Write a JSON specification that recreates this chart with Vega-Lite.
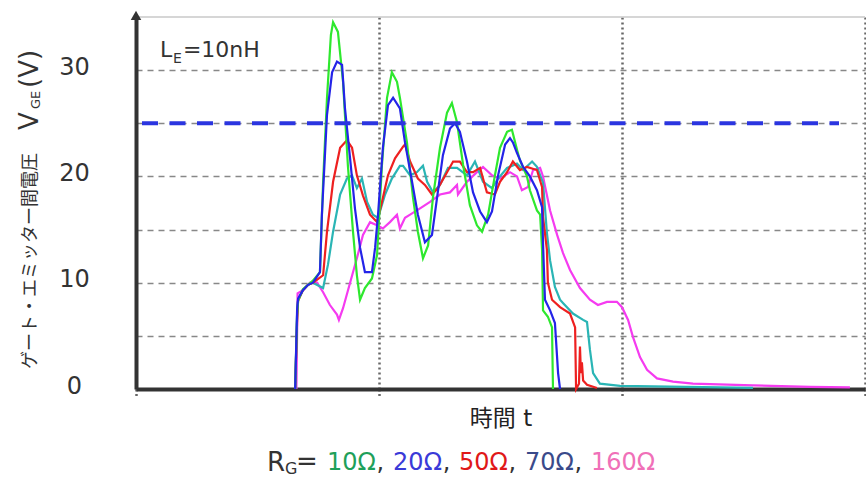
{
  "$schema": "https://vega.github.io/schema/vega-lite/v6.json",
  "width": 729,
  "height": 372,
  "autosize": {"type": "none"},
  "padding": {"left": 136, "top": 17, "right": 1, "bottom": 90},
  "background": "white",
  "config": {"view": {"stroke": null}, "font": "DejaVu Sans, Noto Sans CJK JP"},
  "datasets": {
    "curves": [
      {"rg":"160Ω","t":0.660,"v":0},{"rg":"160Ω","t":0.665,"v":9},{"rg":"160Ω","t":0.687,"v":9.3},{"rg":"160Ω","t":0.716,"v":10},{"rg":"160Ω","t":0.745,"v":10},{"rg":"160Ω","t":0.770,"v":9.1},{"rg":"160Ω","t":0.798,"v":7.9},{"rg":"160Ω","t":0.827,"v":7},{"rg":"160Ω","t":0.835,"v":6.5},{"rg":"160Ω","t":0.852,"v":7.6},{"rg":"160Ω","t":0.881,"v":10},{"rg":"160Ω","t":0.909,"v":12.3},{"rg":"160Ω","t":0.934,"v":14.5},{"rg":"160Ω","t":0.963,"v":15.7},{"rg":"160Ω","t":0.992,"v":15.4},{"rg":"160Ω","t":1.016,"v":15.1},{"rg":"160Ω","t":1.045,"v":15.7},{"rg":"160Ω","t":1.074,"v":16.4},{"rg":"160Ω","t":1.086,"v":15.1},{"rg":"160Ω","t":1.107,"v":16.1},{"rg":"160Ω","t":1.128,"v":16.4},{"rg":"160Ω","t":1.169,"v":17},{"rg":"160Ω","t":1.210,"v":17.6},{"rg":"160Ω","t":1.251,"v":18.3},{"rg":"160Ω","t":1.292,"v":18.5},{"rg":"160Ω","t":1.321,"v":19.2},{"rg":"160Ω","t":1.325,"v":18.3},{"rg":"160Ω","t":1.362,"v":19.5},{"rg":"160Ω","t":1.403,"v":20.4},{"rg":"160Ω","t":1.428,"v":20.9},{"rg":"160Ω","t":1.465,"v":20.1},{"rg":"160Ω","t":1.498,"v":19.8},{"rg":"160Ω","t":1.539,"v":20.4},{"rg":"160Ω","t":1.568,"v":20},{"rg":"160Ω","t":1.588,"v":18.7},{"rg":"160Ω","t":1.613,"v":19},{"rg":"160Ω","t":1.634,"v":20.6},{"rg":"160Ω","t":1.663,"v":20.8},{"rg":"160Ω","t":1.675,"v":20},{"rg":"160Ω","t":1.704,"v":16.8},{"rg":"160Ω","t":1.733,"v":14.5},{"rg":"160Ω","t":1.757,"v":12.8},{"rg":"160Ω","t":1.786,"v":11.2},{"rg":"160Ω","t":1.827,"v":9.5},{"rg":"160Ω","t":1.868,"v":8.4},{"rg":"160Ω","t":1.901,"v":7.9},{"rg":"160Ω","t":1.938,"v":8.2},{"rg":"160Ω","t":1.979,"v":8.2},{"rg":"160Ω","t":2.000,"v":7.7},{"rg":"160Ω","t":2.025,"v":6.5},{"rg":"160Ω","t":2.045,"v":4.9},{"rg":"160Ω","t":2.074,"v":3},{"rg":"160Ω","t":2.103,"v":1.8},{"rg":"160Ω","t":2.144,"v":1},{"rg":"160Ω","t":2.210,"v":0.7},{"rg":"160Ω","t":2.292,"v":0.5},{"rg":"160Ω","t":2.539,"v":0.35},{"rg":"160Ω","t":2.774,"v":0.2},{"rg":"160Ω","t":2.938,"v":0.15},
      {"rg":"70Ω","t":0.655,"v":0},{"rg":"70Ω","t":0.663,"v":7},{"rg":"70Ω","t":0.667,"v":8.4},{"rg":"70Ω","t":0.687,"v":9.3},{"rg":"70Ω","t":0.708,"v":9.8},{"rg":"70Ω","t":0.728,"v":10},{"rg":"70Ω","t":0.770,"v":9.5},{"rg":"70Ω","t":0.790,"v":11.7},{"rg":"70Ω","t":0.811,"v":14.8},{"rg":"70Ω","t":0.840,"v":18.3},{"rg":"70Ω","t":0.868,"v":19.8},{"rg":"70Ω","t":0.889,"v":20.1},{"rg":"70Ω","t":0.909,"v":18.9},{"rg":"70Ω","t":0.930,"v":19.8},{"rg":"70Ω","t":0.951,"v":17.6},{"rg":"70Ω","t":0.975,"v":16.4},{"rg":"70Ω","t":0.996,"v":16.1},{"rg":"70Ω","t":1.025,"v":18.3},{"rg":"70Ω","t":1.053,"v":19.8},{"rg":"70Ω","t":1.086,"v":21},{"rg":"70Ω","t":1.099,"v":21},{"rg":"70Ω","t":1.128,"v":20.1},{"rg":"70Ω","t":1.156,"v":20.4},{"rg":"70Ω","t":1.181,"v":21},{"rg":"70Ω","t":1.198,"v":19.5},{"rg":"70Ω","t":1.222,"v":18.5},{"rg":"70Ω","t":1.251,"v":19.2},{"rg":"70Ω","t":1.284,"v":20.8},{"rg":"70Ω","t":1.321,"v":20.8},{"rg":"70Ω","t":1.362,"v":20.1},{"rg":"70Ω","t":1.395,"v":21.4},{"rg":"70Ω","t":1.428,"v":19.5},{"rg":"70Ω","t":1.465,"v":18.9},{"rg":"70Ω","t":1.490,"v":19.8},{"rg":"70Ω","t":1.527,"v":20.8},{"rg":"70Ω","t":1.568,"v":21.2},{"rg":"70Ω","t":1.593,"v":20.6},{"rg":"70Ω","t":1.630,"v":21.4},{"rg":"70Ω","t":1.650,"v":20.9},{"rg":"70Ω","t":1.675,"v":19.4},{"rg":"70Ω","t":1.691,"v":14.7},{"rg":"70Ω","t":1.704,"v":12.1},{"rg":"70Ω","t":1.724,"v":9.6},{"rg":"70Ω","t":1.745,"v":8.4},{"rg":"70Ω","t":1.757,"v":8.1},{"rg":"70Ω","t":1.798,"v":7.1},{"rg":"70Ω","t":1.840,"v":6.5},{"rg":"70Ω","t":1.856,"v":6.3},{"rg":"70Ω","t":1.868,"v":3.7},{"rg":"70Ω","t":1.881,"v":1.5},{"rg":"70Ω","t":1.909,"v":0.5},{"rg":"70Ω","t":1.992,"v":0.3},{"rg":"70Ω","t":2.539,"v":0.1},
      {"rg":"50Ω","t":0.655,"v":0},{"rg":"50Ω","t":0.663,"v":6.5},{"rg":"50Ω","t":0.667,"v":8.3},{"rg":"50Ω","t":0.687,"v":9.3},{"rg":"50Ω","t":0.708,"v":9.8},{"rg":"50Ω","t":0.728,"v":10},{"rg":"50Ω","t":0.770,"v":10.7},{"rg":"50Ω","t":0.786,"v":14.8},{"rg":"50Ω","t":0.811,"v":19.5},{"rg":"50Ω","t":0.840,"v":22.7},{"rg":"50Ω","t":0.868,"v":23.4},{"rg":"50Ω","t":0.889,"v":22.7},{"rg":"50Ω","t":0.909,"v":20.1},{"rg":"50Ω","t":0.934,"v":18.2},{"rg":"50Ω","t":0.963,"v":16.4},{"rg":"50Ω","t":0.992,"v":15.7},{"rg":"50Ω","t":1.012,"v":17.6},{"rg":"50Ω","t":1.037,"v":20.1},{"rg":"50Ω","t":1.066,"v":21.7},{"rg":"50Ω","t":1.099,"v":22.8},{"rg":"50Ω","t":1.107,"v":23},{"rg":"50Ω","t":1.128,"v":21.4},{"rg":"50Ω","t":1.160,"v":19.8},{"rg":"50Ω","t":1.189,"v":19.2},{"rg":"50Ω","t":1.218,"v":18.3},{"rg":"50Ω","t":1.243,"v":18.9},{"rg":"50Ω","t":1.280,"v":20.4},{"rg":"50Ω","t":1.305,"v":21.4},{"rg":"50Ω","t":1.333,"v":21.4},{"rg":"50Ω","t":1.362,"v":20.4},{"rg":"50Ω","t":1.387,"v":20.4},{"rg":"50Ω","t":1.416,"v":20.8},{"rg":"50Ω","t":1.444,"v":18.5},{"rg":"50Ω","t":1.477,"v":18.3},{"rg":"50Ω","t":1.498,"v":19.5},{"rg":"50Ω","t":1.527,"v":20.4},{"rg":"50Ω","t":1.551,"v":21.4},{"rg":"50Ω","t":1.580,"v":20.6},{"rg":"50Ω","t":1.609,"v":20.9},{"rg":"50Ω","t":1.650,"v":20.6},{"rg":"50Ω","t":1.671,"v":19},{"rg":"50Ω","t":1.675,"v":16.2},{"rg":"50Ω","t":1.691,"v":13.1},{"rg":"50Ω","t":1.695,"v":10},{"rg":"50Ω","t":1.712,"v":8.4},{"rg":"50Ω","t":1.745,"v":7.7},{"rg":"50Ω","t":1.786,"v":7.1},{"rg":"50Ω","t":1.807,"v":5.8},{"rg":"50Ω","t":1.811,"v":0},{"rg":"50Ω","t":1.823,"v":0.5},{"rg":"50Ω","t":1.827,"v":4},{"rg":"50Ω","t":1.831,"v":1.5},{"rg":"50Ω","t":1.835,"v":2.5},{"rg":"50Ω","t":1.840,"v":0.8},{"rg":"50Ω","t":1.856,"v":0.4},{"rg":"50Ω","t":1.897,"v":0.1},
      {"rg":"10Ω","t":0.655,"v":0},{"rg":"10Ω","t":0.663,"v":7},{"rg":"10Ω","t":0.667,"v":8.3},{"rg":"10Ω","t":0.687,"v":9.4},{"rg":"10Ω","t":0.708,"v":9.8},{"rg":"10Ω","t":0.728,"v":10.2},{"rg":"10Ω","t":0.757,"v":11},{"rg":"10Ω","t":0.770,"v":19.5},{"rg":"10Ω","t":0.786,"v":27.4},{"rg":"10Ω","t":0.802,"v":33.3},{"rg":"10Ω","t":0.811,"v":34.5},{"rg":"10Ω","t":0.831,"v":33.6},{"rg":"10Ω","t":0.852,"v":28.9},{"rg":"10Ω","t":0.872,"v":21},{"rg":"10Ω","t":0.893,"v":14.8},{"rg":"10Ω","t":0.909,"v":10.7},{"rg":"10Ω","t":0.922,"v":8.4},{"rg":"10Ω","t":0.942,"v":9.5},{"rg":"10Ω","t":0.971,"v":10.4},{"rg":"10Ω","t":0.992,"v":12.6},{"rg":"10Ω","t":1.012,"v":21},{"rg":"10Ω","t":1.033,"v":27.4},{"rg":"10Ω","t":1.053,"v":29.8},{"rg":"10Ω","t":1.074,"v":28.9},{"rg":"10Ω","t":1.086,"v":27.4},{"rg":"10Ω","t":1.115,"v":23.2},{"rg":"10Ω","t":1.140,"v":18},{"rg":"10Ω","t":1.160,"v":14.8},{"rg":"10Ω","t":1.181,"v":12.3},{"rg":"10Ω","t":1.202,"v":13.5},{"rg":"10Ω","t":1.222,"v":18},{"rg":"10Ω","t":1.251,"v":22.7},{"rg":"10Ω","t":1.280,"v":26},{"rg":"10Ω","t":1.300,"v":26.9},{"rg":"10Ω","t":1.321,"v":25.1},{"rg":"10Ω","t":1.346,"v":21.1},{"rg":"10Ω","t":1.374,"v":17.3},{"rg":"10Ω","t":1.403,"v":15.4},{"rg":"10Ω","t":1.424,"v":14.8},{"rg":"10Ω","t":1.449,"v":16.4},{"rg":"10Ω","t":1.477,"v":20.1},{"rg":"10Ω","t":1.498,"v":22.7},{"rg":"10Ω","t":1.527,"v":24.2},{"rg":"10Ω","t":1.547,"v":24.4},{"rg":"10Ω","t":1.568,"v":22.5},{"rg":"10Ω","t":1.580,"v":21.5},{"rg":"10Ω","t":1.609,"v":20},{"rg":"10Ω","t":1.621,"v":18.7},{"rg":"10Ω","t":1.650,"v":16.8},{"rg":"10Ω","t":1.663,"v":16.4},{"rg":"10Ω","t":1.671,"v":13.1},{"rg":"10Ω","t":1.675,"v":7.4},{"rg":"10Ω","t":1.695,"v":6.8},{"rg":"10Ω","t":1.712,"v":5.8},{"rg":"10Ω","t":1.716,"v":0},
      {"rg":"20Ω","t":0.655,"v":0},{"rg":"20Ω","t":0.663,"v":7.5},{"rg":"20Ω","t":0.667,"v":8.5},{"rg":"20Ω","t":0.687,"v":9.3},{"rg":"20Ω","t":0.708,"v":9.8},{"rg":"20Ω","t":0.728,"v":10},{"rg":"20Ω","t":0.757,"v":11},{"rg":"20Ω","t":0.765,"v":16.4},{"rg":"20Ω","t":0.786,"v":25.8},{"rg":"20Ω","t":0.807,"v":29.8},{"rg":"20Ω","t":0.827,"v":30.8},{"rg":"20Ω","t":0.848,"v":30.5},{"rg":"20Ω","t":0.860,"v":26.4},{"rg":"20Ω","t":0.881,"v":21.7},{"rg":"20Ω","t":0.901,"v":17},{"rg":"20Ω","t":0.922,"v":13.3},{"rg":"20Ω","t":0.942,"v":11},{"rg":"20Ω","t":0.971,"v":11},{"rg":"20Ω","t":0.984,"v":13.3},{"rg":"20Ω","t":0.996,"v":16.4},{"rg":"20Ω","t":1.016,"v":22.7},{"rg":"20Ω","t":1.037,"v":26.7},{"rg":"20Ω","t":1.058,"v":27.4},{"rg":"20Ω","t":1.086,"v":26.4},{"rg":"20Ω","t":1.107,"v":23.2},{"rg":"20Ω","t":1.136,"v":19.5},{"rg":"20Ω","t":1.160,"v":16.4},{"rg":"20Ω","t":1.189,"v":13.8},{"rg":"20Ω","t":1.218,"v":14.5},{"rg":"20Ω","t":1.239,"v":18},{"rg":"20Ω","t":1.263,"v":22},{"rg":"20Ω","t":1.292,"v":24.5},{"rg":"20Ω","t":1.313,"v":25},{"rg":"20Ω","t":1.333,"v":24.2},{"rg":"20Ω","t":1.362,"v":21.4},{"rg":"20Ω","t":1.387,"v":18.5},{"rg":"20Ω","t":1.416,"v":16.7},{"rg":"20Ω","t":1.444,"v":15.7},{"rg":"20Ω","t":1.465,"v":16.7},{"rg":"20Ω","t":1.490,"v":20.1},{"rg":"20Ω","t":1.519,"v":23},{"rg":"20Ω","t":1.539,"v":23.6},{"rg":"20Ω","t":1.551,"v":23.2},{"rg":"20Ω","t":1.568,"v":22.2},{"rg":"20Ω","t":1.593,"v":20.9},{"rg":"20Ω","t":1.621,"v":20},{"rg":"20Ω","t":1.650,"v":18.7},{"rg":"20Ω","t":1.671,"v":17.1},{"rg":"20Ω","t":1.675,"v":13.7},{"rg":"20Ω","t":1.683,"v":8.4},{"rg":"20Ω","t":1.704,"v":7.4},{"rg":"20Ω","t":1.724,"v":6.2},{"rg":"20Ω","t":1.737,"v":1.5},{"rg":"20Ω","t":1.745,"v":0}
    ],
    "one": [{}]
  },
  "layer": [
    {
      "data": {"name": "one"},
      "mark": {"type": "rule", "color": "#c8c8c8", "strokeWidth": 1.5},
      "encoding": {"y": {"datum": 35, "type": "quantitative"}}
    },
    {
      "data": {"name": "curves"},
      "mark": {"type": "line", "strokeWidth": 2.2, "strokeJoin": "miter"},
      "encoding": {
        "x": {
          "field": "t", "type": "quantitative",
          "scale": {"domain": [0, 3], "nice": false, "zero": false},
          "axis": {
            "values": [0, 1, 2, 3], "labels": false, "title": "時間 t",
            "titleFontSize": 23, "titleFontWeight": "normal", "titleColor": "#222",
            "titleFont": "DejaVu Sans, Noto Sans CJK JP", "titlePadding": 9,
            "domainColor": "#333", "domainWidth": 4,
            "ticks": true, "tickSize": 8, "tickDash": [2, 2.5], "tickColor": "#666", "tickWidth": 2.5,
            "grid": true, "gridDash": [2, 3], "gridColor": "#666", "gridWidth": 2.5, "gridOpacity": 1
          }
        },
        "y": {
          "field": "v", "type": "quantitative",
          "scale": {"domain": [0, 35], "nice": false},
          "axis": {
            "values": [0, 5, 10, 15, 20, 25, 30],
            "labelExpr": "datum.value % 10 === 0 ? datum.label : ''",
            "title": null,
            "domainColor": "#333", "domainWidth": 4,
            "ticks": false, "labelPadding": 62, "labelAlign": "center", "labelOffset": -3,
            "labelFontSize": 24, "labelColor": "#333", "labelFont": "DejaVu Sans",
            "grid": true, "gridDash": [6, 5], "gridColor": "#888", "gridWidth": 1.5, "gridOpacity": 1
          }
        },
        "color": {
          "field": "rg", "type": "nominal",
          "scale": {"domain": ["10Ω", "20Ω", "50Ω", "70Ω", "160Ω"], "range": ["#2ee82e", "#2424e8", "#ee2020", "#2ab5b5", "#f53bf0"]},
          "legend": null
        }
      }
    },
    {
      "data": {"name": "one"},
      "mark": {"type": "rule", "color": "#2b35e0", "strokeWidth": 4, "strokeDash": [16, 11.5], "strokeDashOffset": 21.5},
      "encoding": {"x": {"datum": 0}, "x2": {"datum": 2.893}, "y": {"datum": 25}}
    },
    {
      "data": {"name": "one"},
      "mark": {"type": "point", "shape": "triangle-up", "filled": true, "color": "#333", "opacity": 1, "size": 110, "clip": false},
      "encoding": {"x": {"datum": 0}, "y": {"datum": 35.15}}
    },
    {
      "data": {"name": "one"},
      "mark": {"type": "text", "text": "L", "fontSize": 22, "align": "left", "baseline": "alphabetic", "color": "#333", "font": "DejaVu Sans"},
      "encoding": {"x": {"datum": 0.099}, "y": {"datum": 31.23}}
    },
    {
      "data": {"name": "one"},
      "mark": {"type": "text", "text": "E", "fontSize": 14, "align": "left", "baseline": "alphabetic", "color": "#333", "font": "DejaVu Sans"},
      "encoding": {"x": {"datum": 0.152}, "y": {"datum": 30.67}}
    },
    {
      "data": {"name": "one"},
      "mark": {"type": "text", "text": "=10nH", "fontSize": 22, "align": "left", "baseline": "alphabetic", "color": "#333", "font": "DejaVu Sans"},
      "encoding": {"x": {"datum": 0.193}, "y": {"datum": 31.23}}
    },
    {
      "data": {"name": "one"},
      "mark": {"type": "text", "text": "ゲート・エミッター間電圧", "fontSize": 18, "angle": 270, "align": "left", "baseline": "alphabetic", "color": "#333", "font": "Noto Sans CJK JP", "clip": false},
      "encoding": {"x": {"datum": -0.4115}, "y": {"datum": 1.88}}
    },
    {
      "data": {"name": "one"},
      "mark": {"type": "text", "text": "V", "fontSize": 26, "angle": 270, "align": "left", "baseline": "alphabetic", "color": "#333", "font": "DejaVu Sans", "clip": false},
      "encoding": {"x": {"datum": -0.4033}, "y": {"datum": 24.37}}
    },
    {
      "data": {"name": "one"},
      "mark": {"type": "text", "text": "GE", "fontSize": 13, "angle": 270, "align": "left", "baseline": "alphabetic", "color": "#333", "font": "DejaVu Sans", "clip": false},
      "encoding": {"x": {"datum": -0.3951}, "y": {"datum": 26.34}}
    },
    {
      "data": {"name": "one"},
      "mark": {"type": "text", "text": "(V)", "fontSize": 26, "angle": 270, "align": "left", "baseline": "alphabetic", "color": "#333", "font": "DejaVu Sans", "clip": false},
      "encoding": {"x": {"datum": -0.4033}, "y": {"datum": 28.32}}
    },
    {
      "data": {"name": "one"},
      "mark": {"type": "text", "text": "R", "fontSize": 26, "align": "left", "baseline": "alphabetic", "color": "#333", "font": "DejaVu Sans", "clip": false},
      "encoding": {"x": {"datum": 0.539}, "y": {"datum": -7.7}}
    },
    {
      "data": {"name": "one"},
      "mark": {"type": "text", "text": "G", "fontSize": 16, "align": "left", "baseline": "alphabetic", "color": "#333", "font": "DejaVu Sans", "clip": false},
      "encoding": {"x": {"datum": 0.613}, "y": {"datum": -8.0}}
    },
    {
      "data": {"name": "one"},
      "mark": {"type": "text", "text": "=", "fontSize": 26, "align": "left", "baseline": "alphabetic", "color": "#333", "font": "DejaVu Sans", "clip": false},
      "encoding": {"x": {"datum": 0.658}, "y": {"datum": -7.62}}
    },
    {
      "data": {"name": "one"},
      "mark": {"type": "text", "text": "10Ω", "fontSize": 24, "align": "left", "baseline": "alphabetic", "color": "#1fa05a", "font": "DejaVu Sans", "clip": false},
      "encoding": {"x": {"datum": 0.786}, "y": {"datum": -7.62}}
    },
    {
      "data": {"name": "one"},
      "mark": {"type": "text", "text": ",", "fontSize": 24, "align": "left", "baseline": "alphabetic", "color": "#333", "font": "DejaVu Sans", "clip": false},
      "encoding": {"x": {"datum": 0.990}, "y": {"datum": -7.62}}
    },
    {
      "data": {"name": "one"},
      "mark": {"type": "text", "text": "20Ω", "fontSize": 24, "align": "left", "baseline": "alphabetic", "color": "#3a3ad8", "font": "DejaVu Sans", "clip": false},
      "encoding": {"x": {"datum": 1.058}, "y": {"datum": -7.62}}
    },
    {
      "data": {"name": "one"},
      "mark": {"type": "text", "text": ",", "fontSize": 24, "align": "left", "baseline": "alphabetic", "color": "#333", "font": "DejaVu Sans", "clip": false},
      "encoding": {"x": {"datum": 1.262}, "y": {"datum": -7.62}}
    },
    {
      "data": {"name": "one"},
      "mark": {"type": "text", "text": "50Ω", "fontSize": 24, "align": "left", "baseline": "alphabetic", "color": "#e01818", "font": "DejaVu Sans", "clip": false},
      "encoding": {"x": {"datum": 1.329}, "y": {"datum": -7.62}}
    },
    {
      "data": {"name": "one"},
      "mark": {"type": "text", "text": ",", "fontSize": 24, "align": "left", "baseline": "alphabetic", "color": "#333", "font": "DejaVu Sans", "clip": false},
      "encoding": {"x": {"datum": 1.533}, "y": {"datum": -7.62}}
    },
    {
      "data": {"name": "one"},
      "mark": {"type": "text", "text": "70Ω", "fontSize": 24, "align": "left", "baseline": "alphabetic", "color": "#3a4a8a", "font": "DejaVu Sans", "clip": false},
      "encoding": {"x": {"datum": 1.601}, "y": {"datum": -7.62}}
    },
    {
      "data": {"name": "one"},
      "mark": {"type": "text", "text": ",", "fontSize": 24, "align": "left", "baseline": "alphabetic", "color": "#333", "font": "DejaVu Sans", "clip": false},
      "encoding": {"x": {"datum": 1.805}, "y": {"datum": -7.62}}
    },
    {
      "data": {"name": "one"},
      "mark": {"type": "text", "text": "160Ω", "fontSize": 24, "align": "left", "baseline": "alphabetic", "color": "#f070b8", "font": "DejaVu Sans", "clip": false},
      "encoding": {"x": {"datum": 1.872}, "y": {"datum": -7.62}}
    }
  ]
}
